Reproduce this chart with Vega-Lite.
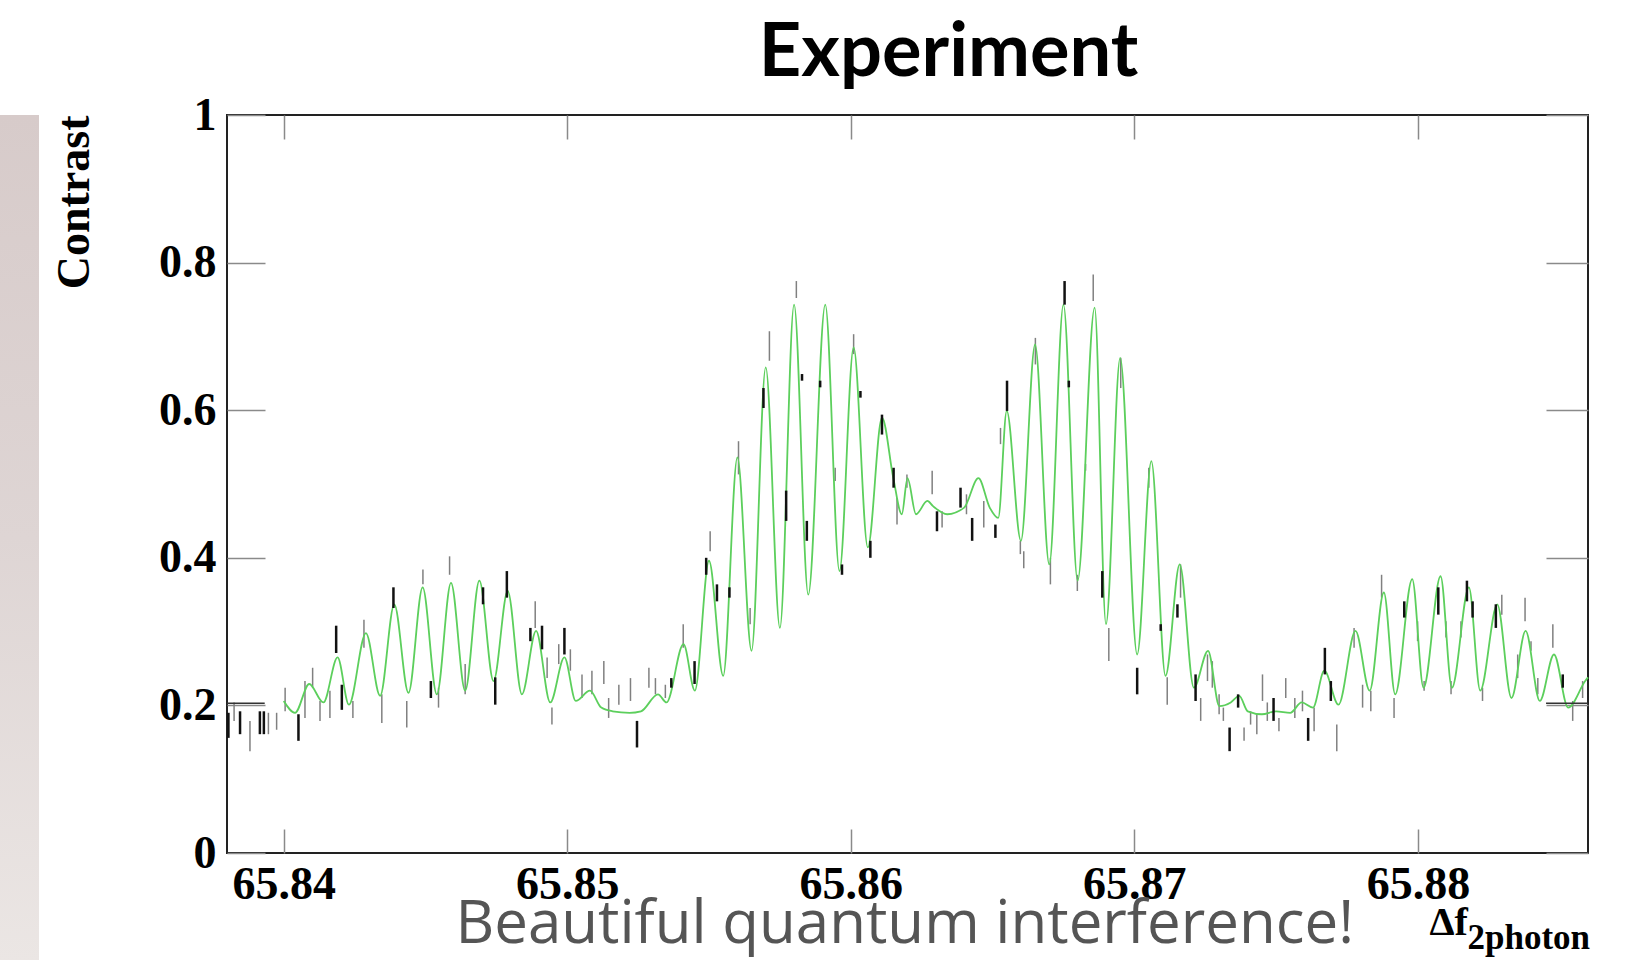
{
  "$schema": "https://vega.github.io/schema/vega-lite/v6.json",
  "padding": {"top": 16, "left": 0, "right": 0, "bottom": 0},
  "background": "white",
  "spacing": 10,
  "config": {"view": {"stroke": null}},
  "datasets": {
    "fit": [
      {"f":65.8400,"c":0.206},{"f":65.8404,"c":0.190},{"f":65.8409,"c":0.229},{"f":65.8414,"c":0.204},
      {"f":65.8419,"c":0.265},{"f":65.8423,"c":0.201},{"f":65.8429,"c":0.298},{"f":65.8434,"c":0.213},
      {"f":65.8439,"c":0.337},{"f":65.8444,"c":0.217},{"f":65.8449,"c":0.360},{"f":65.8454,"c":0.215},
      {"f":65.8459,"c":0.366},{"f":65.8464,"c":0.220},{"f":65.8469,"c":0.369},{"f":65.8474,"c":0.233},
      {"f":65.8479,"c":0.355},{"f":65.8484,"c":0.215},{"f":65.8489,"c":0.301},{"f":65.8494,"c":0.204},
      {"f":65.8499,"c":0.265},{"f":65.8503,"c":0.206},{"f":65.8508,"c":0.220},{"f":65.8512,"c":0.197},
      {"f":65.8516,"c":0.192},{"f":65.8522,"c":0.190},{"f":65.8526,"c":0.192},{"f":65.8532,"c":0.215},
      {"f":65.8535,"c":0.204},{"f":65.8541,"c":0.283},{"f":65.8545,"c":0.220},{"f":65.8550,"c":0.396},
      {"f":65.8555,"c":0.240},{"f":65.8560,"c":0.536},{"f":65.8565,"c":0.274},{"f":65.8570,"c":0.658},
      {"f":65.8575,"c":0.305},{"f":65.8580,"c":0.743},{"f":65.8585,"c":0.350},{"f":65.8591,"c":0.743},
      {"f":65.8596,"c":0.382},{"f":65.8601,"c":0.685},{"f":65.8606,"c":0.414},{"f":65.8611,"c":0.590},
      {"f":65.8615,"c":0.508},{"f":65.8618,"c":0.459},{"f":65.8620,"c":0.508},{"f":65.8623,"c":0.459},
      {"f":65.8627,"c":0.477},{"f":65.8629,"c":0.470},{"f":65.8634,"c":0.459},{"f":65.8640,"c":0.468},
      {"f":65.8645,"c":0.508},{"f":65.8649,"c":0.468},{"f":65.8652,"c":0.454},{"f":65.8655,"c":0.599},
      {"f":65.8660,"c":0.423},{"f":65.8665,"c":0.689},{"f":65.8670,"c":0.391},{"f":65.8675,"c":0.743},
      {"f":65.8680,"c":0.369},{"f":65.8686,"c":0.739},{"f":65.8690,"c":0.310},{"f":65.8695,"c":0.671},
      {"f":65.8701,"c":0.269},{"f":65.8706,"c":0.531},{"f":65.8711,"c":0.240},{"f":65.8716,"c":0.391},
      {"f":65.8721,"c":0.224},{"f":65.8726,"c":0.274},{"f":65.8730,"c":0.199},{"f":65.8734,"c":0.204},
      {"f":65.8737,"c":0.213},{"f":65.8740,"c":0.192},{"f":65.8745,"c":0.188},{"f":65.8750,"c":0.192},
      {"f":65.8755,"c":0.190},{"f":65.8759,"c":0.204},{"f":65.8763,"c":0.197},{"f":65.8767,"c":0.247},
      {"f":65.8772,"c":0.201},{"f":65.8778,"c":0.301},{"f":65.8783,"c":0.220},{"f":65.8788,"c":0.353},
      {"f":65.8792,"c":0.215},{"f":65.8798,"c":0.371},{"f":65.8802,"c":0.224},{"f":65.8808,"c":0.375},
      {"f":65.8812,"c":0.224},{"f":65.8818,"c":0.360},{"f":65.8822,"c":0.220},{"f":65.8828,"c":0.337},
      {"f":65.8833,"c":0.210},{"f":65.8838,"c":0.301},{"f":65.8843,"c":0.206},{"f":65.8848,"c":0.269},
      {"f":65.8853,"c":0.197},{"f":65.8859,"c":0.233},{"f":65.8860,"c":0.238}
    ],
    "errDark": [
      {"f":65.83805,"lo":0.156,"hi":0.190},{"f":65.83846,"lo":0.161,"hi":0.192},{"f":65.83916,"lo":0.161,"hi":0.192},
      {"f":65.83930,"lo":0.161,"hi":0.192},{"f":65.84052,"lo":0.152,"hi":0.188},{"f":65.84185,"lo":0.271,"hi":0.308},
      {"f":65.84205,"lo":0.194,"hi":0.228},{"f":65.84387,"lo":0.332,"hi":0.360},{"f":65.84519,"lo":0.210,"hi":0.233},
      {"f":65.84703,"lo":0.337,"hi":0.360},{"f":65.84746,"lo":0.201,"hi":0.238},{"f":65.84787,"lo":0.346,"hi":0.382},
      {"f":65.84870,"lo":0.287,"hi":0.305},{"f":65.84911,"lo":0.276,"hi":0.308},{"f":65.84990,"lo":0.269,"hi":0.305},
      {"f":65.85246,"lo":0.143,"hi":0.179},{"f":65.85367,"lo":0.224,"hi":0.237},{"f":65.85449,"lo":0.229,"hi":0.260},
      {"f":65.85490,"lo":0.377,"hi":0.400},{"f":65.85528,"lo":0.341,"hi":0.364},{"f":65.85572,"lo":0.346,"hi":0.360},
      {"f":65.85692,"lo":0.603,"hi":0.630},{"f":65.85772,"lo":0.450,"hi":0.491},{"f":65.85828,"lo":0.640,"hi":0.649},
      {"f":65.85845,"lo":0.423,"hi":0.450},{"f":65.85892,"lo":0.631,"hi":0.640},{"f":65.85969,"lo":0.377,"hi":0.391},
      {"f":65.86034,"lo":0.617,"hi":0.626},{"f":65.86069,"lo":0.400,"hi":0.423},{"f":65.86110,"lo":0.567,"hi":0.594},
      {"f":65.86151,"lo":0.495,"hi":0.522},{"f":65.86304,"lo":0.436,"hi":0.463},{"f":65.86387,"lo":0.468,"hi":0.495},
      {"f":65.86428,"lo":0.423,"hi":0.454},{"f":65.86510,"lo":0.427,"hi":0.445},{"f":65.86551,"lo":0.599,"hi":0.640},
      {"f":65.86754,"lo":0.743,"hi":0.775},{"f":65.86769,"lo":0.631,"hi":0.640},{"f":65.86887,"lo":0.346,"hi":0.382},
      {"f":65.87010,"lo":0.215,"hi":0.251},{"f":65.87093,"lo":0.301,"hi":0.310},{"f":65.87152,"lo":0.319,"hi":0.337},
      {"f":65.87216,"lo":0.206,"hi":0.242},{"f":65.87336,"lo":0.138,"hi":0.170},{"f":65.87366,"lo":0.197,"hi":0.215},
      {"f":65.87491,"lo":0.179,"hi":0.210},{"f":65.87613,"lo":0.152,"hi":0.183},{"f":65.87672,"lo":0.242,"hi":0.278},
      {"f":65.87693,"lo":0.206,"hi":0.233},{"f":65.87952,"lo":0.319,"hi":0.341},{"f":65.88072,"lo":0.323,"hi":0.360},
      {"f":65.88173,"lo":0.341,"hi":0.369},{"f":65.88193,"lo":0.319,"hi":0.341},{"f":65.88275,"lo":0.305,"hi":0.337},
      {"f":65.88511,"lo":0.224,"hi":0.242}
    ],
    "errLight": [
      {"f":65.83825,"lo":0.179,"hi":0.204},{"f":65.83881,"lo":0.138,"hi":0.179},{"f":65.83946,"lo":0.161,"hi":0.190},
      {"f":65.83975,"lo":0.167,"hi":0.190},{"f":65.84005,"lo":0.192,"hi":0.224},{"f":65.84075,"lo":0.183,"hi":0.233},
      {"f":65.84102,"lo":0.224,"hi":0.251},{"f":65.84128,"lo":0.179,"hi":0.206},{"f":65.84163,"lo":0.183,"hi":0.220},
      {"f":65.84244,"lo":0.183,"hi":0.206},{"f":65.84283,"lo":0.278,"hi":0.316},{"f":65.84346,"lo":0.176,"hi":0.215},
      {"f":65.84434,"lo":0.170,"hi":0.206},{"f":65.84491,"lo":0.364,"hi":0.384},{"f":65.84546,"lo":0.197,"hi":0.224},
      {"f":65.84585,"lo":0.377,"hi":0.402},{"f":65.84640,"lo":0.215,"hi":0.256},{"f":65.84887,"lo":0.305,"hi":0.341},
      {"f":65.84929,"lo":0.237,"hi":0.265},{"f":65.84946,"lo":0.174,"hi":0.197},{"f":65.84970,"lo":0.256,"hi":0.283},
      {"f":65.85011,"lo":0.247,"hi":0.276},{"f":65.85052,"lo":0.210,"hi":0.242},{"f":65.85087,"lo":0.215,"hi":0.247},
      {"f":65.85129,"lo":0.229,"hi":0.260},{"f":65.85146,"lo":0.183,"hi":0.210},{"f":65.85182,"lo":0.201,"hi":0.228},
      {"f":65.85223,"lo":0.206,"hi":0.237},{"f":65.85288,"lo":0.224,"hi":0.251},{"f":65.85311,"lo":0.215,"hi":0.237},
      {"f":65.85346,"lo":0.210,"hi":0.228},{"f":65.85409,"lo":0.278,"hi":0.310},{"f":65.85504,"lo":0.409,"hi":0.436},
      {"f":65.85604,"lo":0.513,"hi":0.558},{"f":65.85645,"lo":0.310,"hi":0.332},{"f":65.85713,"lo":0.667,"hi":0.707},
      {"f":65.85808,"lo":0.752,"hi":0.775},{"f":65.85945,"lo":0.504,"hi":0.522},{"f":65.86010,"lo":0.676,"hi":0.703},
      {"f":65.86163,"lo":0.445,"hi":0.481},{"f":65.86198,"lo":0.495,"hi":0.513},{"f":65.86287,"lo":0.486,"hi":0.518},
      {"f":65.86322,"lo":0.441,"hi":0.463},{"f":65.86408,"lo":0.459,"hi":0.486},{"f":65.86469,"lo":0.441,"hi":0.477},
      {"f":65.86528,"lo":0.554,"hi":0.576},{"f":65.86598,"lo":0.405,"hi":0.423},{"f":65.86610,"lo":0.386,"hi":0.409},
      {"f":65.86651,"lo":0.662,"hi":0.698},{"f":65.86704,"lo":0.364,"hi":0.400},{"f":65.86799,"lo":0.355,"hi":0.377},
      {"f":65.86828,"lo":0.518,"hi":0.527},{"f":65.86855,"lo":0.748,"hi":0.784},{"f":65.86910,"lo":0.260,"hi":0.305},
      {"f":65.86952,"lo":0.630,"hi":0.671},{"f":65.87051,"lo":0.495,"hi":0.522},{"f":65.87116,"lo":0.201,"hi":0.238},
      {"f":65.87163,"lo":0.346,"hi":0.391},{"f":65.87234,"lo":0.179,"hi":0.210},{"f":65.87258,"lo":0.233,"hi":0.269},
      {"f":65.87275,"lo":0.224,"hi":0.260},{"f":65.87299,"lo":0.188,"hi":0.215},{"f":65.87314,"lo":0.179,"hi":0.197},
      {"f":65.87387,"lo":0.152,"hi":0.170},{"f":65.87410,"lo":0.174,"hi":0.192},{"f":65.87432,"lo":0.161,"hi":0.188},
      {"f":65.87452,"lo":0.206,"hi":0.242},{"f":65.87469,"lo":0.179,"hi":0.204},{"f":65.87510,"lo":0.165,"hi":0.183},
      {"f":65.87534,"lo":0.210,"hi":0.237},{"f":65.87566,"lo":0.183,"hi":0.210},{"f":65.87593,"lo":0.192,"hi":0.220},
      {"f":65.87634,"lo":0.165,"hi":0.197},{"f":65.87714,"lo":0.138,"hi":0.174},{"f":65.87775,"lo":0.278,"hi":0.305},
      {"f":65.87805,"lo":0.197,"hi":0.228},{"f":65.87834,"lo":0.192,"hi":0.220},{"f":65.87872,"lo":0.346,"hi":0.377},
      {"f":65.87916,"lo":0.183,"hi":0.210},{"f":65.87999,"lo":0.287,"hi":0.314},{"f":65.88022,"lo":0.220,"hi":0.233},
      {"f":65.88099,"lo":0.292,"hi":0.314},{"f":65.88117,"lo":0.215,"hi":0.233},{"f":65.88152,"lo":0.292,"hi":0.314},
      {"f":65.88228,"lo":0.206,"hi":0.224},{"f":65.88296,"lo":0.323,"hi":0.350},{"f":65.88352,"lo":0.237,"hi":0.269},
      {"f":65.88378,"lo":0.314,"hi":0.346},{"f":65.88399,"lo":0.274,"hi":0.287},{"f":65.88423,"lo":0.215,"hi":0.237},
      {"f":65.88476,"lo":0.278,"hi":0.310},{"f":65.88546,"lo":0.179,"hi":0.206},{"f":65.88581,"lo":0.210,"hi":0.233}
    ],
    "flat": [
      {"f1":65.8380,"f2":65.83933,"c":0.203},
      {"f1":65.88452,"f2":65.8860,"c":0.203}
    ]
  },
  "hconcat": [
    {
      "width": 39,
      "height": 846,
      "data": {"values": [{"band": "slide edge"}]},
      "mark": {
        "type": "rect",
        "fill": {"gradient": "linear", "x1": 0, "y1": 0, "x2": 0, "y2": 1,
          "stops": [{"offset": 0, "color": "#d7cbca"}, {"offset": 0.5, "color": "#ded5d4"}, {"offset": 1, "color": "#ebe6e4"}]}
      },
      "encoding": {}
    },
    {
      "width": 1361,
      "height": 738,
      "view": {"stroke": "#222222", "strokeWidth": 2, "fill": "white"},
      "title": {
        "text": "Experiment",
        "font": "Lato",
        "fontWeight": "bold",
        "fontSize": 74,
        "color": "#000000",
        "anchor": "middle",
        "frame": "group",
        "dx": 41,
        "offset": -58,
        "baseline": "alphabetic"
      },
      "layer": [
        {
          "data": {"name": "errLight"},
          "mark": {"type": "rule", "color": "#808080", "strokeWidth": 1.5},
          "encoding": {
            "x": {
              "field": "f", "type": "quantitative",
              "scale": {"domain": [65.838, 65.886], "nice": false, "zero": false},
              "axis": {
                "orient": "bottom",
                "values": [65.84, 65.85, 65.86, 65.87, 65.88],
                "format": ".2f",
                "domain": false, "grid": false,
                "tickSize": -24, "tickColor": "#8a8a8a", "tickWidth": 1.5,
                "minExtent": 0,
                "labelFont": "Liberation Serif", "labelFontWeight": "bold", "labelFontSize": 46,
                "labelColor": "#000000", "labelPadding": 33,
                "labelFlush": false, "labelOverlap": false, "labelBound": false,
                "title": "Δf",
                "titleFont": "Liberation Serif", "titleFontWeight": "bold", "titleFontSize": 40,
                "titleColor": "#000000",
                "titleX": 1202, "titleY": 81,
                "titleAlign": "left", "titleBaseline": "alphabetic"
              }
            },
            "y": {
              "field": "lo", "type": "quantitative",
              "scale": {"domain": [0, 1], "nice": false, "zero": true},
              "axis": {
                "orient": "left",
                "values": [0, 0.2, 0.4, 0.6, 0.8, 1],
                "format": "~g",
                "domain": false, "grid": false,
                "tickSize": -38, "tickColor": "#8a8a8a", "tickWidth": 1.5,
                "minExtent": 0,
                "labelFont": "Liberation Serif", "labelFontWeight": "bold", "labelFontSize": 46,
                "labelColor": "#000000", "labelPadding": 49,
                "labelAlign": "right", "labelBaseline": "middle",
                "labelFlush": false, "labelOverlap": false, "labelBound": false,
                "title": "Contrast",
                "titleFont": "Liberation Serif", "titleFontWeight": "bold", "titleFontSize": 46,
                "titleColor": "#000000",
                "titleX": -139, "titleY": 0, "titleAngle": -90,
                "titleAlign": "right", "titleBaseline": "alphabetic"
              }
            },
            "y2": {"field": "hi"}
          }
        },
        {
          "data": {"name": "fit"},
          "mark": {"type": "line", "color": "#5ccf5c", "strokeWidth": 1.8, "interpolate": "monotone"},
          "encoding": {
            "x": {
              "field": "f", "type": "quantitative",
              "axis": {
                "orient": "top",
                "values": [65.84, 65.85, 65.86, 65.87, 65.88],
                "labels": false, "domain": false, "grid": false,
                "tickSize": -24, "tickColor": "#8a8a8a", "tickWidth": 1.5,
                "minExtent": 0, "maxExtent": 0,
                "title": "Beautiful quantum interference!",
                "titleFont": "Open Sans", "titleFontWeight": 400, "titleFontSize": 60,
                "titleColor": "#555555",
                "titleX": 228, "titleY": 827,
                "titleAlign": "left", "titleBaseline": "alphabetic"
              }
            },
            "y": {
              "field": "c", "type": "quantitative",
              "axis": {
                "orient": "right",
                "values": [0, 0.2, 0.4, 0.6, 0.8, 1],
                "labels": false, "domain": false, "grid": false,
                "tickSize": -42, "tickColor": "#8a8a8a", "tickWidth": 1.5,
                "minExtent": 0, "maxExtent": 0,
                "title": "2photon",
                "titleFont": "Liberation Serif", "titleFontWeight": "bold", "titleFontSize": 35,
                "titleColor": "#000000",
                "titleX": -121, "titleY": 833, "titleAngle": 0,
                "titleAlign": "left", "titleBaseline": "alphabetic"
              }
            }
          }
        },
        {
          "data": {"name": "errDark"},
          "mark": {"type": "rule", "color": "#111111", "strokeWidth": 2.5},
          "encoding": {
            "x": {"field": "f", "type": "quantitative", "axis": null},
            "y": {"field": "lo", "type": "quantitative", "axis": null},
            "y2": {"field": "hi"}
          }
        },
        {
          "data": {"name": "flat"},
          "mark": {"type": "rule", "color": "#333333", "strokeWidth": 1.5},
          "encoding": {
            "x": {"field": "f1", "type": "quantitative", "axis": null},
            "x2": {"field": "f2"},
            "y": {"field": "c", "type": "quantitative", "axis": null}
          }
        }
      ],
      "resolve": {"axis": {"x": "independent", "y": "independent"}}
    }
  ]
}
